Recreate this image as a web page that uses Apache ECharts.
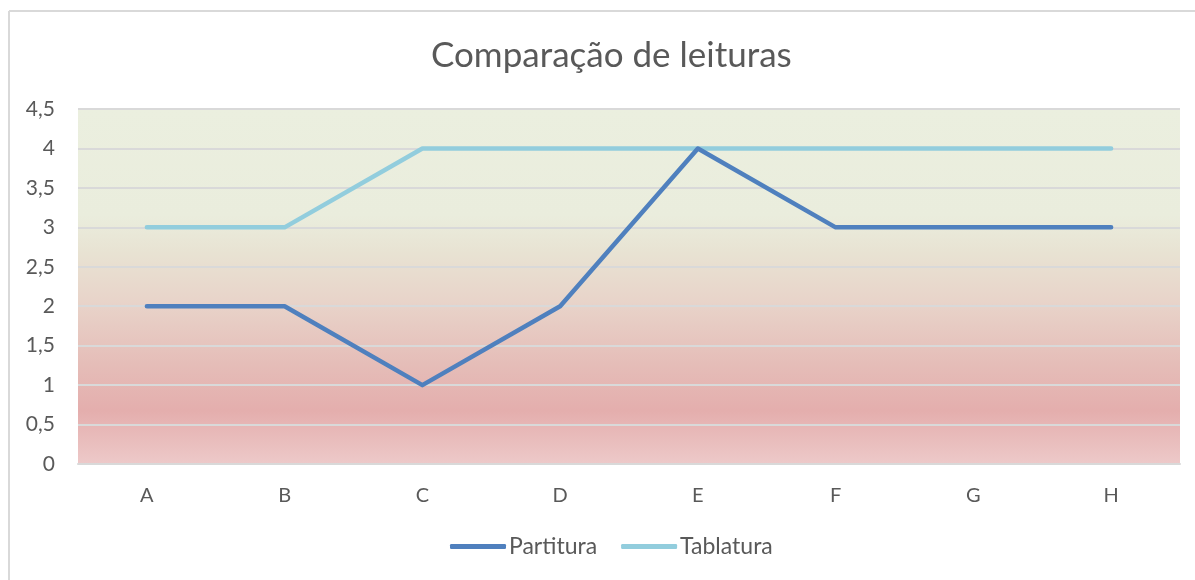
<!DOCTYPE html>
<html>
<head>
<meta charset="utf-8">
<script src="https://cdn.jsdelivr.net/npm/echarts@6/dist/echarts.min.js"></script>
<style>
    html, body { margin: 0; padding: 0; background: #fff; }
    #chart { width: 1195px; height: 580px; }
</style>
</head>
<body>
<div id="chart"></div>
<script>
var categories = ['A', 'B', 'C', 'D', 'E', 'F', 'G', 'H'];
var partitura = [2, 2, 1, 2, 4, 3, 3, 3];
var tablatura = [3, 3, 4, 4, 4, 4, 4, 4];

var chart = echarts.init(document.getElementById('chart'));

var textColor = '#595959';
var fontName = 'Lato';

var options = {
    backgroundColor: '#fff',
    animation: false,
    textStyle: { fontFamily: fontName },
    title: {
        text: 'Comparação de leituras',
        left: 426,
        top: 33,
        textStyle: { color: textColor, fontSize: 35, fontWeight: 'normal', fontFamily: fontName }
    },
    // chart frame (top and left edge only, like the picture)
    graphic: [
        { type: 'line', shape: { x1: 9, y1: 11, x2: 1195, y2: 11 }, style: { stroke: '#D9D9D9', lineWidth: 2 } },
        { type: 'line', shape: { x1: 9, y1: 11, x2: 9, y2: 580 }, style: { stroke: '#D9D9D9', lineWidth: 2 } }
    ],
    legend: {
        bottom: 17,
        left: 445,
        icon: 'roundRect',
        itemWidth: 56,
        itemHeight: 5,
        itemGap: 24,
        textStyle: { color: textColor, fontSize: 23, padding: [0, 0, 0, -2] },
        data: ['Partitura', 'Tablatura']
    },
    grid: {
        left: 78,
        right: 15,
        top: 109,
        bottom: 116,
        show: true,
        borderWidth: 0,
        backgroundColor: new echarts.graphic.LinearGradient(0, 0, 0, 1, [
            { offset: 0, color: '#EBEFDF' },
            { offset: 0.3, color: '#EAEDDD' },
            { offset: 0.4, color: '#E8E3D3' },
            { offset: 0.55, color: '#E8D3C9' },
            { offset: 0.72, color: '#E5BDB8' },
            { offset: 0.85, color: '#E4AEAD' },
            { offset: 1, color: '#EDC9C9' }
        ])
    },
    xAxis: {
        type: 'category',
        data: categories,
        axisLine: { lineStyle: { color: '#D9D9D9', width: 2 } },
        axisTick: { show: false },
        axisLabel: { color: textColor, fontSize: 20, margin: 22 }
    },
    yAxis: {
        type: 'value',
        min: 0,
        max: 4.5,
        interval: 0.5,
        axisLine: { show: false },
        axisTick: { show: false },
        splitLine: { lineStyle: { color: '#D9D9D9', width: 2 } },
        axisLabel: {
            color: textColor,
            fontSize: 21,
            margin: 23,
            formatter: function (v) {
                return String(v).replace('.', ',');
            }
        }
    },
    series: [
        {
            name: 'Partitura',
            type: 'line',
            data: partitura,
            showSymbol: false,
            symbol: 'none',
            color: '#4F80BE',
            lineStyle: { width: 4.5, cap: 'round', join: 'round' },
            z: 3
        },
        {
            name: 'Tablatura',
            type: 'line',
            data: tablatura,
            showSymbol: false,
            symbol: 'none',
            color: '#92CDDD',
            lineStyle: { width: 4.5, cap: 'round', join: 'round' },
            z: 2
        }
    ]
};
chart.setOption(options);
</script>
</body>
</html>
